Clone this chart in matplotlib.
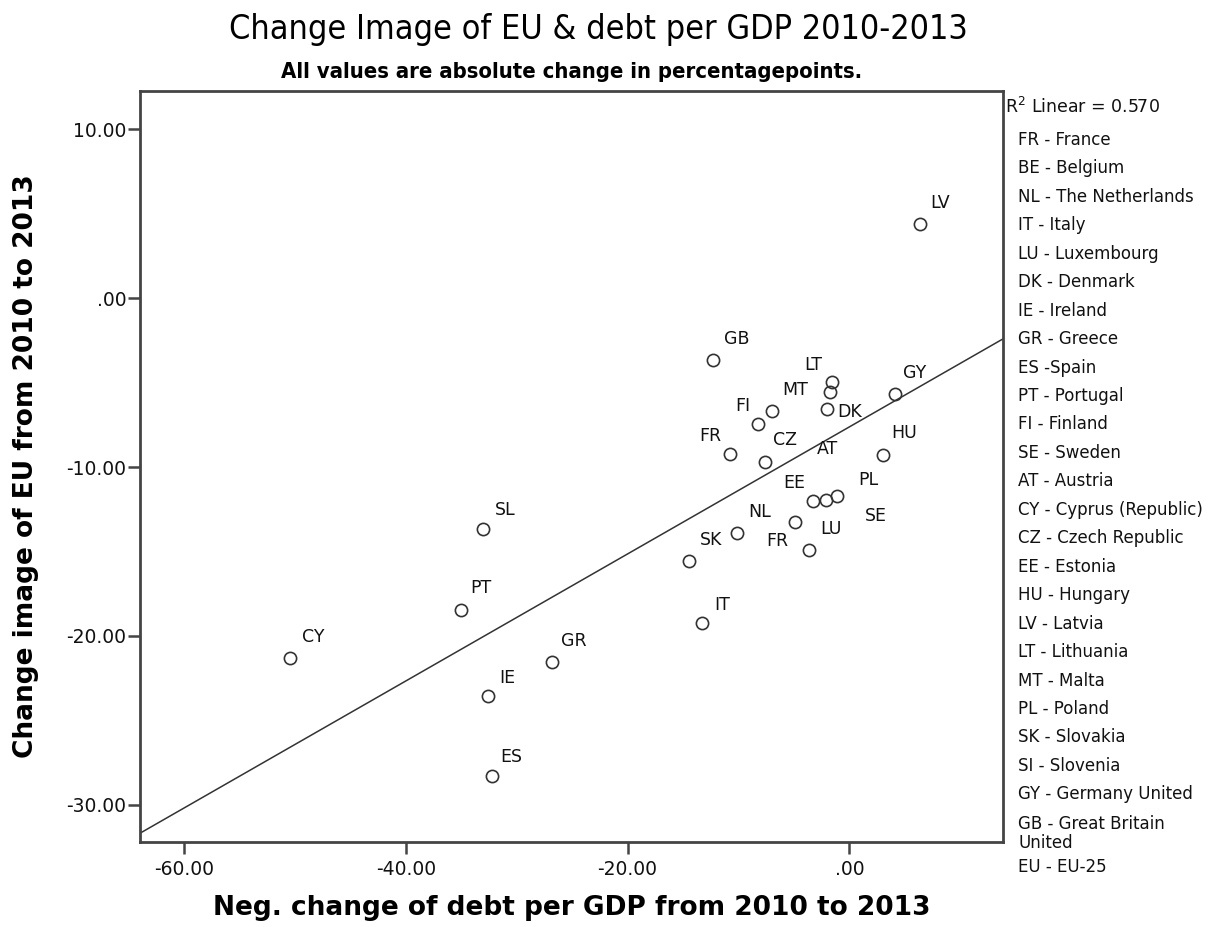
import numpy as np
import matplotlib
matplotlib.use("Agg")
import matplotlib.pyplot as plt
from matplotlib.ticker import FixedLocator, FuncFormatter

# Country codes as printed next to each point
codes = ["LV", "GB", "LT", "AT", "DK", "MT", "FI", "FR", "CZ", "GY", "HU", "EE", "SE",
         "PL", "FR", "NL", "LU", "SK", "IT", "SL", "PT", "CY", "GR", "IE", "ES"]
# Negative change of debt per GDP, 2010 -> 2013 (percentage points)
debt_change = [6.37, -12.26, -1.59, -1.74, -2.04, -7.00, -8.21, -10.76, -7.60, 4.12, 3.01,
               -3.30, -2.10, -1.14, -4.90, -10.15, -3.61, -14.43, -13.31, -33.00, -35.04,
               -50.43, -26.84, -32.55, -32.25]
# Change of the EU image, 2010 -> 2013 (percentage points)
image_change = [4.39, -3.63, -4.96, -5.55, -6.54, -6.70, -7.47, -9.20, -9.70, -5.65, -9.26,
                -12.03, -11.97, -11.73, -13.26, -13.91, -14.93, -15.57, -19.24, -13.65,
                -18.45, -21.29, -21.55, -23.53, -28.27]

x_ticks = [-60, -40, -20, 0]
y_ticks = [-30, -20, -10, 0, 10]

r2_text = "R$^{2}$ Linear = 0.570"
key_entries = ["FR - France", "BE - Belgium", "NL - The Netherlands", "IT - Italy",
               "LU - Luxembourg", "DK - Denmark", "IE - Ireland", "GR - Greece",
               "ES -Spain", "PT - Portugal", "FI - Finland", "SE - Sweden", "AT - Austria",
               "CY - Cyprus (Republic)", "CZ - Czech Republic", "EE - Estonia",
               "HU - Hungary", "LV - Latvia", "LT - Lithuania", "MT - Malta", "PL - Poland",
               "SK - Slovakia", "SI - Slovenia", "GY - Germany United",
               "GB - Great Britain\nUnited", "EU - EU-25"]

# Label placement (pixels, relative to the marker centre; +y is up)
label_offsets = {
    0: (20, 21), 1: (23, 21), 2: (-18, 17), 3: (-3, -57), 4: (23, -3), 5: (23, 21),
    6: (-15, 18), 7: (-20, 18), 8: (20, 22), 9: (20, 21), 10: (21, 22), 11: (-18, 18),
    12: (50, -16), 13: (32, 16), 14: (-18, -19), 15: (23, 21), 16: (22, 21),
    17: (22, 21), 18: (20, 18), 19: (22, 19), 20: (20, 22), 21: (23, 21), 22: (22, 21),
    23: (19, 18), 24: (20, 19),
}

W, H, DPI = 1222, 927, 100
fig = plt.figure(figsize=(W / DPI, H / DPI), dpi=DPI)
fig.patch.set_facecolor("white")

ax_l, ax_r, ax_t, ax_b = 140, 1003, 91, 842
ax = fig.add_axes([ax_l / W, 1 - ax_b / H, (ax_r - ax_l) / W, (ax_b - ax_t) / H])
ax.set_xlim(-63.97, 13.86)
ax.set_ylim(-32.2, 12.27)

ink = "#333333"
x = np.array(debt_change)
y = np.array(image_change)

ax.plot(x, y, linestyle="none", marker="o", markersize=8.8, markerfacecolor="none",
        markeredgecolor=ink, markeredgewidth=1.2, zorder=3)

for i, code in enumerate(codes):
    dx, dy = label_offsets[i]
    ax.annotate(code, (x[i], y[i]), xytext=(dx, dy), textcoords="offset pixels",
                ha="center", va="center", fontsize=12.5, color="#111111",
                family="DejaVu Sans", zorder=4)

# Least-squares fit line across the full plot width
slope, intercept = np.polyfit(x, y, 1)
ax.axline((0, intercept), slope=slope, color=ink, linewidth=1.1, zorder=2)

for side in ["left", "right", "top", "bottom"]:
    ax.spines[side].set_color("#444444")
    ax.spines[side].set_linewidth(2.0)

ax.xaxis.set_major_locator(FixedLocator(x_ticks))
ax.yaxis.set_major_locator(FixedLocator(y_ticks))


def spss_fmt(v, _pos):
    s = f"{v:.2f}"
    if s in ("0.00", "-0.00"):
        return ".00"
    return s


ax.xaxis.set_major_formatter(FuncFormatter(spss_fmt))
ax.yaxis.set_major_formatter(FuncFormatter(spss_fmt))
ax.tick_params(axis="both", direction="out", length=8.4, width=1.8, color="#444444",
               labelsize=13.5, labelcolor="#111111")
ax.tick_params(axis="x", pad=4.5)
ax.tick_params(axis="y", pad=1.5)

# Titles and axis titles
fig.text(0.49, 1 - 30 / H, "Change Image of EU & debt per GDP 2010-2013", ha="center",
         va="center", fontsize=24.5, family="DejaVu Sans", stretch="condensed")
fig.text(((ax_l + ax_r) / 2) / W, 1 - 72 / H,
         "All values are absolute change in percentagepoints.", ha="center", va="center",
         fontsize=15.8, fontweight="bold", family="DejaVu Sans", stretch="condensed")
fig.text(((ax_l + ax_r) / 2) / W, 1 - 908 / H,
         "Neg. change of debt per GDP from 2010 to 2013", ha="center", va="center",
         fontsize=19, fontweight="bold", family="DejaVu Sans")
fig.text(26 / W, 1 - ((ax_t + ax_b) / 2) / H, "Change image of EU from 2010 to 2013",
         ha="center", va="center", rotation=90, fontsize=19, fontweight="bold",
         family="DejaVu Sans")

# Key on the right of the plot
fig.text(1005 / W, 1 - 107 / H, r2_text, ha="left", va="center", fontsize=12.5,
         color="#111111")
ypos = 140
for entry in key_entries:
    n_lines = entry.count("\n") + 1
    if n_lines == 1:
        fig.text(1018 / W, 1 - ypos / H, entry, ha="left", va="center", fontsize=12,
                 color="#111111")
    else:
        fig.text(1018 / W, 1 - (ypos - 8) / H, entry, ha="left", va="top", fontsize=12,
                 color="#111111", linespacing=1.05)
    ypos += 28.45 + 16 * (n_lines - 1)

fig.savefig("out.png", dpi=DPI, facecolor="white")
